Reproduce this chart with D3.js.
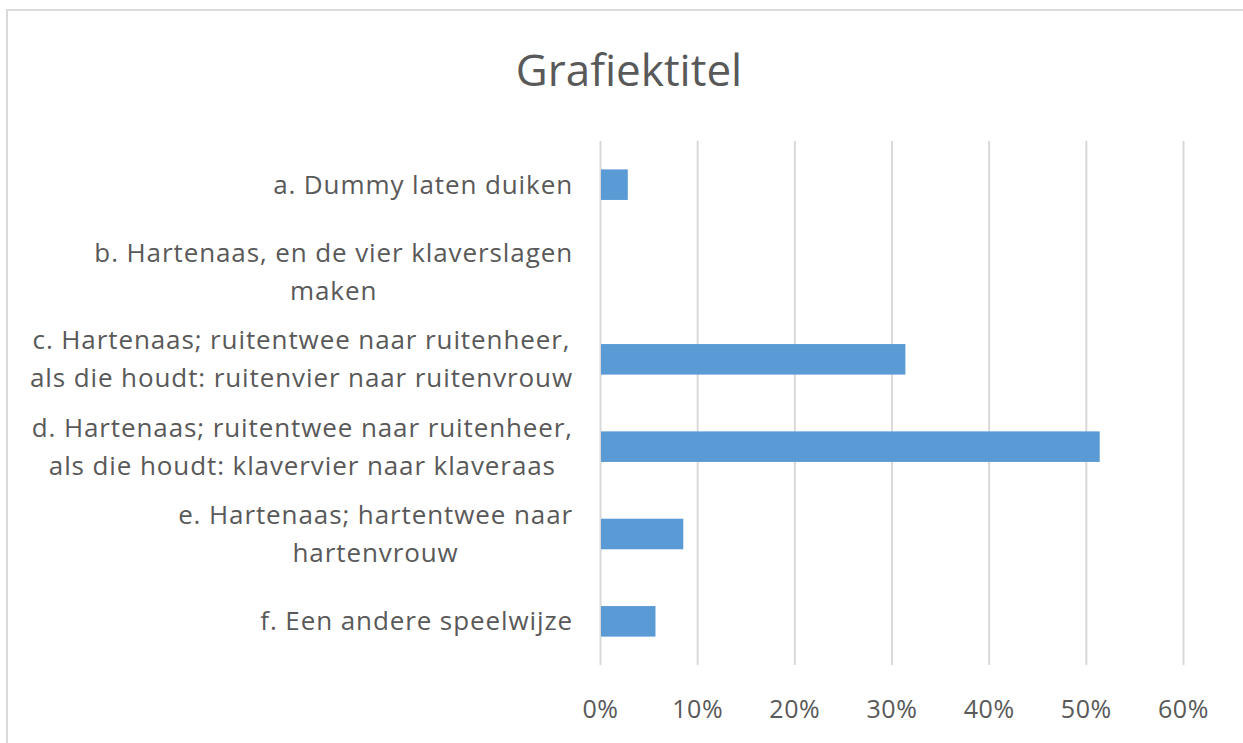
<!DOCTYPE html>
<html>
<head>
<meta charset="utf-8">
<script src="https://cdn.jsdelivr.net/npm/d3@7"></script>
<style>
  body { margin: 0; background: #fff; }
  svg { display: block; font-family: "Open Sans", "Noto Sans", sans-serif; }
</style>
</head>
<body>
<div id="chart"></div>
<script>
// Chart data
const title = "Grafiektitel";
const categories = [
    "a. Dummy laten duiken",
    "b. Hartenaas, en de vier klaverslagen\nmaken",
    "c. Hartenaas; ruitentwee naar ruitenheer,\nals die houdt: ruitenvier naar ruitenvrouw",
    "d. Hartenaas; ruitentwee naar ruitenheer,\nals die houdt: klavervier naar klaveraas",
    "e. Hartenaas; hartentwee naar\nhartenvrouw",
    "f. Een andere speelwijze"
];
const values = [0.0286, 0, 0.3143, 0.5143, 0.0857, 0.0571];
const tickValues = [0, 0.1, 0.2, 0.3, 0.4, 0.5, 0.6];

const width = 1243;
const height = 743;
const textColor = "#595959";
const gridColor = "#D9D9D9";
const barColor = "#5B9BD5";

const svg = d3.select("#chart")
    .append("svg")
    .attr("width", width)
    .attr("height", height);

svg.append("rect")
    .attr("width", width)
    .attr("height", height)
    .attr("fill", "#fff");

// Chart border (runs off the right and bottom edge)
svg.append("rect")
    .attr("x", 7)
    .attr("y", 10)
    .attr("width", width + 20)
    .attr("height", height + 20)
    .attr("fill", "none")
    .attr("stroke", gridColor)
    .attr("stroke-width", 2);

// Scales
const x = d3.scaleLinear().domain([0, 0.6]).range([600, 1183]);
const y = d3.scaleBand()
    .domain(categories)
    .range([141, 665])
    .paddingInner(0.65)
    .paddingOuter(0.325);

// Title
svg.append("text")
    .attr("x", 629)
    .attr("y", 86)
    .attr("text-anchor", "middle")
    .attr("fill", textColor)
    .style("font-size", "44px")
    .text(title);

// Gridlines + tick labels
const xAxis = svg.append("g")
    .attr("transform", "translate(0,665)")
    .call(d3.axisBottom(x)
        .tickValues(tickValues)
        .tickFormat(d3.format(".0%"))
        .tickSize(-524)
        .tickPadding(35));

xAxis.select(".domain").remove();
xAxis.selectAll(".tick line")
    .attr("stroke", gridColor)
    .attr("stroke-width", 2);
xAxis.selectAll(".tick text")
    .attr("fill", textColor)
    .style("font-size", "25px")
    .style("letter-spacing", "0.6px")
    .style("font-family", "'Open Sans', 'Noto Sans', sans-serif");

// Bars
svg.append("g")
    .selectAll("rect")
    .data(values)
    .join("rect")
    .attr("x", x(0) + 1)
    .attr("y", (d, i) => y(categories[i]))
    .attr("width", d => Math.max(0, x(d) - x(0) - 1))
    .attr("height", y.bandwidth())
    .attr("fill", barColor);

// Category labels: centred lines, block right-aligned at 575
const lineHeight = 38;
const labels = svg.append("g")
    .selectAll("text")
    .data(categories)
    .join("text")
    .attr("text-anchor", "middle")
    .attr("fill", textColor)
    .style("font-size", "26px")
    .style("letter-spacing", "0.9px");

labels.each(function(d) {
    const t = d3.select(this);
    const lines = d.split("\n");
    const cy = y(d) + y.bandwidth() / 2;
    lines.forEach((line, i) => {
        t.append("tspan")
            .attr("y", cy + (i - (lines.length - 1) / 2) * lineHeight)
            .attr("dy", "0.35em")
            .text(line);
    });
    const w = d3.max(t.selectAll("tspan").nodes(), n => n.getComputedTextLength());
    t.selectAll("tspan").attr("x", 573 - w / 2);
});
</script>
</body>
</html>
